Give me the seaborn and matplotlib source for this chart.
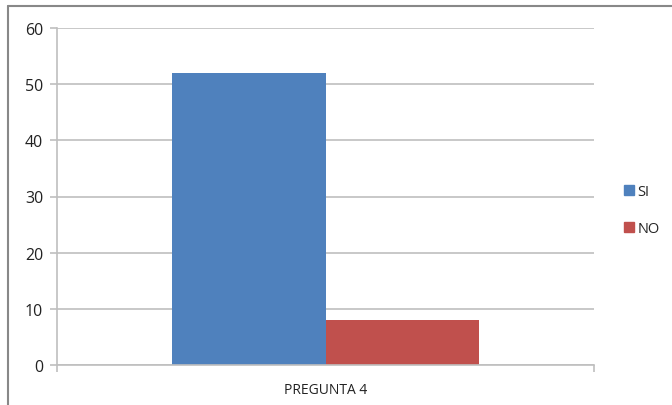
import pandas as pd
import seaborn as sns
import matplotlib.pyplot as plt
from matplotlib.lines import Line2D

# data
categoria = ["PREGUNTA 4"]
serie = ["SI", "NO"]
valores = [52, 8]
colores = ["#4f81bd", "#c0504d"]

df = pd.DataFrame({"pregunta": categoria * len(serie), "respuesta": serie, "valor": valores})

sns.set_style("white")
plt.rcParams["font.family"] = ["Open Sans", "DejaVu Sans"]

fig = plt.figure(figsize=(6.72, 4.06), dpi=100)
ax = fig.add_axes([57 / 672, 40 / 406, 537 / 672, 337 / 406])

sns.barplot(data=df, x="pregunta", y="valor", hue="respuesta", palette=colores,
            width=0.57, saturation=1, linewidth=0, ax=ax, legend=False)

ax.set_ylim(0, 60)
ax.set_xlim(-0.5, 0.5)
ax.set_yticks(range(0, 61, 10))
ax.yaxis.grid(True, color="#bfbfbf", linewidth=1.2)
ax.set_axisbelow(True)
ax.set_xlabel("")
ax.set_ylabel("")

for s in ["top", "right"]:
    ax.spines[s].set_visible(False)
for s in ["left", "bottom"]:
    ax.spines[s].set_color("#bfbfbf")
    ax.spines[s].set_linewidth(1.2)

ax.tick_params(axis="y", length=5, color="#bfbfbf", width=1.2, labelsize=11.5,
               labelcolor="#222222", pad=5, left=True)
ax.tick_params(axis="x", length=0, labelsize=10, labelcolor="#222222", pad=12)
ax.set_xticks([-0.5, 0.5], minor=True)
ax.tick_params(axis="x", which="minor", length=5, color="#bfbfbf", width=1.2, bottom=True)

handles = [Line2D([], [], marker="s", linestyle="none", markersize=7,
                  markerfacecolor=c, markeredgecolor=c) for c in colores]
fig.legend(handles, serie, loc="upper left", bbox_to_anchor=(616 / 672, 1 - 179 / 406),
           frameon=False, fontsize=10.5, handletextpad=0.05, labelspacing=1.5,
           handlelength=1.0, borderaxespad=0)

# borde gris del grafico (arriba e izquierda)
fig.add_artist(Line2D([8 / 672, 1], [1 - 7 / 406, 1 - 7 / 406], color="#888888", linewidth=1.5,
                      transform=fig.transFigure))
fig.add_artist(Line2D([8 / 672, 8 / 672], [0, 1 - 7 / 406], color="#888888", linewidth=1.5,
                      transform=fig.transFigure))

fig.savefig("out.png", dpi=100)
